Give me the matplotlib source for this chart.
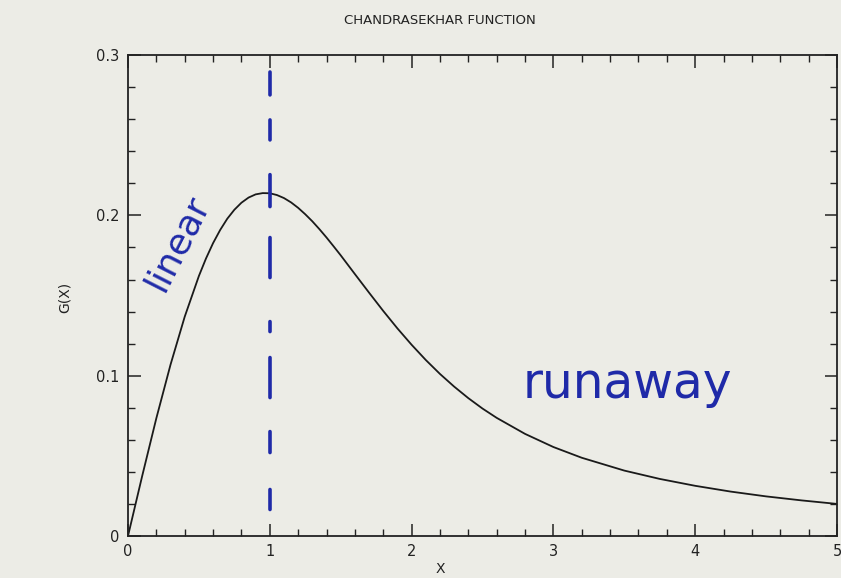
import matplotlib
matplotlib.use("Agg")
import matplotlib.pyplot as plt
from matplotlib.ticker import MultipleLocator

plt.rcParams["lines.scale_dashes"] = False

# Chandrasekhar function G(x), sampled values
x_vals = [0.0, 0.1, 0.2, 0.3, 0.4, 0.5, 0.55, 0.6, 0.65, 0.7, 0.75, 0.8, 0.85,
          0.9, 0.95, 1.0, 1.05, 1.1, 1.15, 1.2, 1.25, 1.3, 1.35, 1.4, 1.45,
          1.5, 1.6, 1.7, 1.8, 1.9, 2.0, 2.1, 2.2, 2.3, 2.4, 2.5, 2.6, 2.8,
          3.0, 3.2, 3.5, 3.75, 4.0, 4.25, 4.5, 4.75, 5.0]
g_vals = [0.0, 0.0374, 0.0735, 0.1069, 0.1368, 0.1622, 0.1731, 0.1827, 0.1909,
          0.1979, 0.2035, 0.2079, 0.2111, 0.2131, 0.2139, 0.2138, 0.2127,
          0.2108, 0.2081, 0.2047, 0.2007, 0.1963, 0.1914, 0.1862, 0.1807,
          0.1751, 0.1634, 0.1518, 0.1404, 0.1295, 0.1193, 0.1098, 0.1011,
          0.0932, 0.0860, 0.0795, 0.0737, 0.0637, 0.0555, 0.0488, 0.0408,
          0.0356, 0.0313, 0.0277, 0.0247, 0.0222, 0.0200]

x_split = 1.0
split_span = [0.2894, 0.0162]
title = "CHANDRASEKHAR FUNCTION"
xlabel = "X"
ylabel = "G(X)"
note_left = "linear"
note_right = "runaway"

paper = "#ecece6"
ink = "#1f2aa8"
dark = "#222222"

fig = plt.figure(figsize=(8.41, 5.78), dpi=100, facecolor=paper)
ax = fig.add_axes([0.1522, 0.0727, 0.843, 0.832], facecolor=paper)

ax.plot(x_vals, g_vals, color="#1a1a1a", lw=1.3)

# hand-drawn style irregular dashes (points)
dash_seq = (0, (16.5, 18, 14.4, 25, 23, 22.3, 28.8, 31.7, 7.2, 18.7,
                28.8, 24.5, 15.1, 26.6, 14.4, 40))
ax.plot([x_split, x_split], split_span, color=ink, lw=2.6,
        linestyle=dash_seq, dash_capstyle="round")

ax.set_xlim(0, 5)
ax.set_ylim(0, 0.3)
ax.xaxis.set_minor_locator(MultipleLocator(0.2))
ax.yaxis.set_minor_locator(MultipleLocator(0.02))
ax.set_xticks([0, 1, 2, 3, 4, 5])
ax.set_xticklabels(["0", "1", "2", "3", "4", "5"])
ax.set_yticks([0, 0.1, 0.2, 0.3])
ax.set_yticklabels(["0", "0.1", "0.2", "0.3"])

ax.tick_params(which="both", direction="in", top=True, right=True,
               color=dark, labelsize=10.5, labelcolor=dark)
ax.tick_params(which="major", length=9, width=1.1, pad=6)
ax.tick_params(which="minor", length=5, width=1.0)
for s in ax.spines.values():
    s.set_color(dark)
    s.set_linewidth(1.3)

fig.text(0.523, 0.965, title, ha="center", va="center", fontsize=9.5,
         color=dark)
fig.text(0.523, 0.004, xlabel, ha="center", va="bottom", fontsize=10,
         color=dark)
fig.text(0.077, 0.486, ylabel, ha="center", va="center", rotation=90,
         fontsize=10, color=dark)

ax.text(0.35, 0.183, note_left, rotation=63, ha="center", va="center",
        fontsize=26, color=ink, family="DejaVu Sans")
ax.text(3.52, 0.095, note_right, ha="center", va="center", fontsize=35,
        color=ink, family="DejaVu Sans")

fig.savefig("out.png", dpi=100, facecolor=paper)
